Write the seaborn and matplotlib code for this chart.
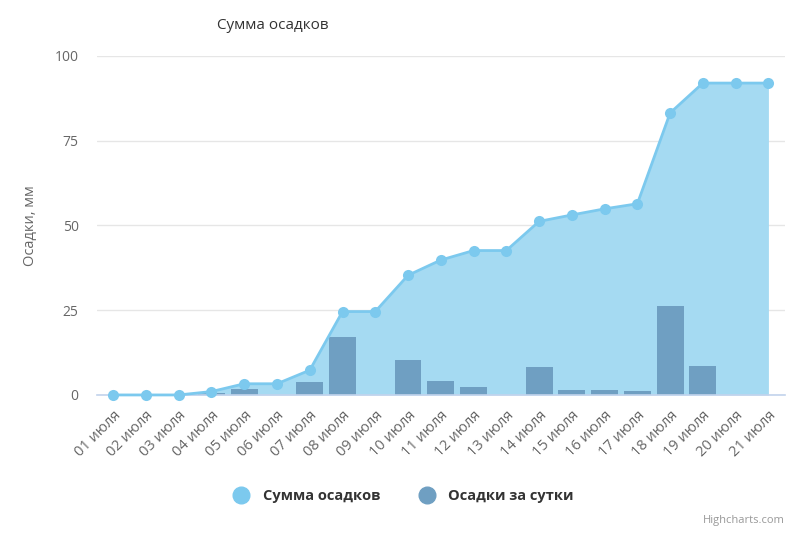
import numpy as np
import pandas as pd
import seaborn as sns
import matplotlib.pyplot as plt
from matplotlib.lines import Line2D

# data
days = ['01 июля', '02 июля', '03 июля', '04 июля', '05 июля', '06 июля', '07 июля',
        '08 июля', '09 июля', '10 июля', '11 июля', '12 июля', '13 июля', '14 июля',
        '15 июля', '16 июля', '17 июля', '18 июля', '19 июля', '20 июля', '21 июля']
total = [0, 0, 0, 1.0, 3.3, 3.3, 7.3, 24.6, 24.6, 35.3, 39.8, 42.6, 42.6, 51.2,
         53.1, 54.9, 56.4, 83.2, 92.0, 92.0, 92.0]
daily = [0, 0, 0, 0.5, 1.7, 0, 3.8, 17.2, 0, 10.2, 4.2, 2.4, 0, 8.3,
         1.5, 1.5, 1.2, 26.3, 8.6, 0, 0]
y_ticks = [0, 25, 50, 75, 100]

df = pd.DataFrame({'day': days, 'pos': np.arange(len(days)), 'total': total, 'daily': daily})

sns.set_style('white')
plt.rcParams['font.family'] = ['Open Sans', 'DejaVu Sans']

line_c = '#7cc9ee'
fill_c = '#a5daf2'
bar_c = '#6f9fc2'

fig = plt.figure(figsize=(8, 5.33), dpi=100)
ax = fig.add_axes([0.121, 0.259, 0.86, 0.636])

# cumulative area + line
ax.fill_between(df['pos'], df['total'], 0, color=fill_c, zorder=1, linewidth=0)
sns.lineplot(data=df, x='pos', y='total', ax=ax, color=line_c, linewidth=2,
             marker='o', markersize=8, markeredgewidth=0, zorder=6, clip_on=False)

# daily bars
sns.barplot(data=df, x='pos', y='daily', ax=ax, color=bar_c, width=0.82,
            saturation=1, native_scale=True, linewidth=0, edgecolor=bar_c, zorder=3)

ax.set_xlim(-0.5, len(days) - 0.5)
ax.set_ylim(0, 100)
ax.set_yticks(y_ticks)
ax.set_xticks(df['pos'])
ax.set_xticklabels(days, rotation=45, ha='right', rotation_mode='anchor')
ax.tick_params(axis='x', length=0, pad=9, labelsize=10.5, labelcolor='#666666')
ax.tick_params(axis='y', length=0, pad=13, labelsize=10, labelcolor='#666666')
ax.grid(axis='y', color='#e6e6e6', linewidth=1, zorder=0)
ax.set_axisbelow(True)
for s in ['top', 'right', 'left']:
    ax.spines[s].set_visible(False)
ax.spines['bottom'].set_color('#c2d3ec')
ax.spines['bottom'].set_linewidth(1.2)
ax.spines['bottom'].set_zorder(5)

ax.set_xlabel('')
ax.set_ylabel('Осадки, мм', color='#666666', fontsize=10.5, labelpad=12)
fig.text(0.341, 0.953, 'Сумма осадков', ha='center', va='center', fontsize=11, color='#333333')

handles = [Line2D([], [], marker='o', linestyle='', markersize=12, color=line_c),
           Line2D([], [], marker='o', linestyle='', markersize=12, color=bar_c)]
fig.legend(handles, ['Сумма осадков', 'Осадки за сутки'], loc='center',
           bbox_to_anchor=(0.5, 0.07), ncol=2, frameon=False, handletextpad=0.5,
           columnspacing=2.2, prop={'size': 10.5, 'weight': 'bold'},
           labelcolor='#333333')
fig.text(0.981, 0.024, 'Highcharts.com', ha='right', va='center', fontsize=8, color='#999999')

fig.savefig('out.png', dpi=100)
